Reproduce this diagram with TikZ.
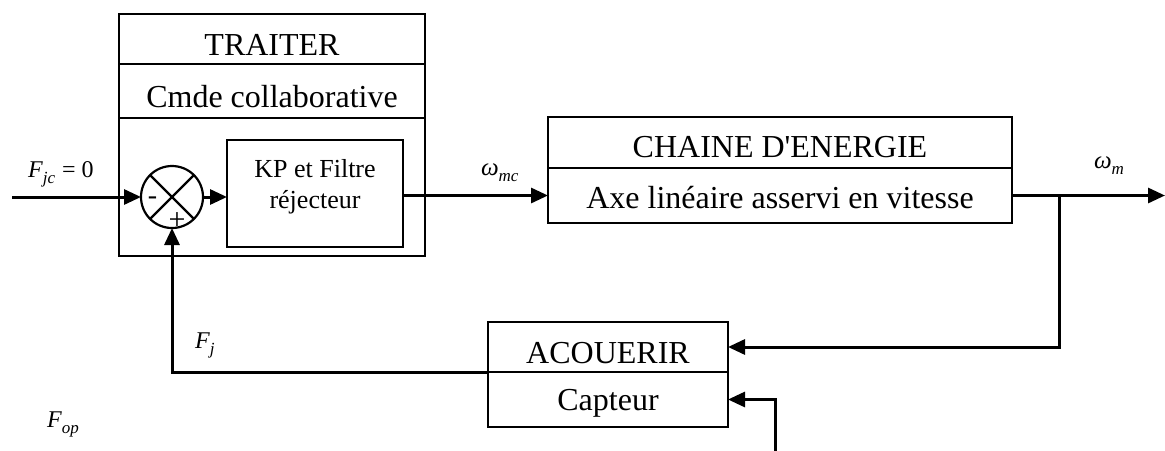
\documentclass[tikz,border=0pt]{standalone}
\usepackage{fontspec}
\setmainfont{Liberation Serif}
\usetikzlibrary{arrows.meta}
\newcommand\lsub[1]{\raisebox{-6.5pt}{\fontsize{17}{17}\selectfont\itshape #1}}
\begin{document}
\begin{tikzpicture}[x=1pt,y=-1pt,
  cell/.style={draw,line width=2.2pt,inner sep=0pt,outer sep=0pt,anchor=center},
  txt/.style={inner sep=0pt,outer sep=0pt,anchor=base,font=\fontsize{32}{38}\selectfont},
  kptxt/.style={inner sep=0pt,outer sep=0pt,anchor=base,font=\fontsize{26}{31}\selectfont},
  lbl/.style={inner sep=0pt,outer sep=0pt,anchor=base west,font=\fontsize{24}{28}\selectfont},
  conn/.style={line width=3pt,-{Triangle[length=17pt,width=15pt]}}]
\useasboundingbox (0,0) rectangle (1165,450);
% TRAITER block
\node[cell,minimum width=306pt,minimum height=50pt] (t1) at (272,39) {};
\node[cell,minimum width=306pt,minimum height=54pt] (t2) at (272,91) {};
\node[cell,minimum width=306pt,minimum height=138pt] (t3) at (272,187) {};
\node[txt] (t1t) at (272,55) {TRAITER};
\node[txt] (t2t) at (272,107) {Cmde collaborative};
\node[cell,minimum width=176pt,minimum height=107pt] (kp) at (315,193.5) {};
\node[kptxt] (kpa) at (315,177) {KP et Filtre};
\node[kptxt] (kpb) at (315,208) {réjecteur};
% summing junction
\node[circle,draw,line width=2.2pt,minimum size=62pt,inner sep=0pt,outer sep=0pt] (sum) at (172,197) {};
\draw[line width=2.2pt] (sum.45) -- (sum.225);
\draw[line width=2.2pt] (sum.135) -- (sum.-45);
\node[inner sep=0pt,font=\fontsize{28}{28}\selectfont] (minus) at (152.5,201) {-};
\node[inner sep=0pt,font=\fontsize{30}{30}\selectfont] (plus) at (177,221) {+};
% CHAINE D'ENERGIE
\node[cell,minimum width=464pt,minimum height=51pt] (c1) at (780,142.5) {};
\node[cell,minimum width=464pt,minimum height=55pt] (c2) at (780,195.5) {};
\node[txt] (c1t) at (780,157) {CHAINE D\textquotesingle ENERGIE};
\node[txt] (c2t) at (780,208) {Axe linéaire asservi en vitesse};
% ACOUERIR
\node[cell,minimum width=240pt,minimum height=50pt] (a1) at (608,347) {};
\node[cell,minimum width=240pt,minimum height=55pt] (a2) at (608,399.5) {};
\node[txt] (a1t) at (608,363) {ACOUERIR};
\node[txt] (a2t) at (608,410) {Capteur};
% connectors
\coordinate (in) at (12,197);
\coordinate (out) at (1165,195.5);
\coordinate (br) at (1059,195.5);
\coordinate (cap) at (775,452);
\draw[conn] (in) -- (sum.west);
\draw[conn] (sum.east) -- (kp.west |- sum.east);
\draw[conn] (kp.east |- c2.west) -- (c2.west);
\draw[conn] (c2.east) -- (out);
\draw[conn] (br) |- (a1.east);
\draw[conn] (a1.south west) -| (sum.south);
\draw[conn] (cap) |- (a2.east);
% labels
\node[lbl] (fjc) at (28,177) {\textit{F}\lsub{jc}\hspace{7pt}=\hspace{6pt}0};
\node[lbl,font=\fontsize{25}{28}\selectfont] (wmc) at (481,175) {\textit{ω}\lsub{mc}};
\node[lbl,font=\fontsize{25}{28}\selectfont] (wm) at (1094,168) {\textit{ω}\lsub{m}};
\node[lbl] (fj) at (195,348) {\textit{F}\lsub{j}};
\node[lbl] (fop) at (47,427) {\textit{F}\lsub{op}};
\end{tikzpicture}
\end{document}
